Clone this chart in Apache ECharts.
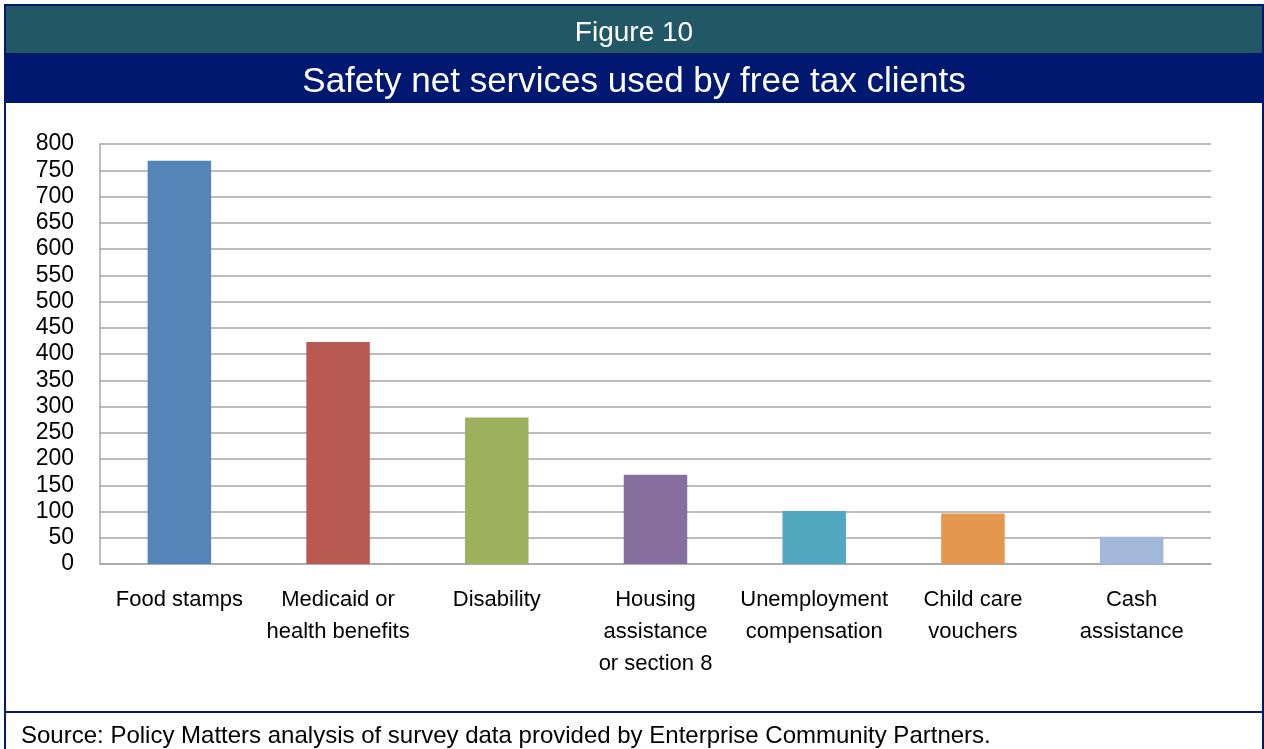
<!DOCTYPE html>
<html>
<head>
<meta charset="utf-8">
<script src="https://cdn.jsdelivr.net/npm/echarts@6/dist/echarts.min.js"></script>
<style>
  html, body { margin: 0; padding: 0; background: #ffffff; }
  #chart { width: 1264px; height: 749px; }
</style>
</head>
<body>
<div id="chart"></div>
<script>
// Survey responses: number of clients using each safety net service
const categories = [
  'Food stamps',
  'Medicaid or\nhealth benefits',
  'Disability',
  'Housing\nassistance\nor section 8',
  'Unemployment\ncompensation',
  'Child care\nvouchers',
  'Cash\nassistance'
];
const clientCounts = [768, 423, 279, 170, 101, 96, 52];
const barColors = ['#5585B8', '#B85A52', '#9BB15E', '#866E9E', '#52A8C0', '#E3974F', '#A3B7D8'];

const figureLabel = 'Figure 10';
const chartTitle = 'Safety net services used by free tax clients';
const sourceNote = 'Source: Policy Matters analysis of survey data provided by Enterprise Community Partners.';

const FONT = '"Liberation Sans", Arial, sans-serif';
const NAVY = '#00186F';
const TEAL = '#225866';

const chart = echarts.init(document.getElementById('chart'), null, { renderer: 'canvas' });

chart.setOption({
  animation: false,
  backgroundColor: '#ffffff',
  grid: { left: 100, right: 53, top: 144, bottom: 185, containLabel: false },
  xAxis: {
    type: 'category',
    data: categories,
    axisLine: { show: true, lineStyle: { color: '#a6a6a6', width: 1.5 } },
    axisTick: { show: false },
    axisLabel: {
      interval: 0,
      margin: 20,
      color: '#000000',
      fontFamily: FONT,
      fontSize: 22,
      lineHeight: 32,
      align: 'center'
    },
    splitLine: { show: false }
  },
  yAxis: {
    type: 'value',
    min: 0,
    max: 800,
    interval: 50,
    axisLine: { show: true, lineStyle: { color: '#a6a6a6', width: 1.5 } },
    axisTick: { show: false },
    axisLabel: {
      color: '#000000',
      fontFamily: FONT,
      fontSize: 23,
      margin: 26,
      padding: [5, 0, 0, 0]
    },
    splitLine: { show: true, lineStyle: { color: '#a6a6a6', width: 1.5 } }
  },
  series: [{
    type: 'bar',
    barWidth: '40%',
    data: clientCounts.map((v, i) => ({ value: v, itemStyle: { color: barColors[i] } }))
  }],
  graphic: [
    // header bands
    { type: 'rect', z: -1, shape: { x: 6, y: 6, width: 1257, height: 47 }, style: { fill: TEAL } },
    { type: 'rect', z: -1, shape: { x: 6, y: 53, width: 1257, height: 50 }, style: { fill: NAVY } },
    // frame and footer divider
    { type: 'rect', z: 10, shape: { x: 5, y: 5, width: 1258, height: 760 }, style: { fill: 'none', stroke: NAVY, lineWidth: 2 } },
    { type: 'line', z: 10, shape: { x1: 5, y1: 712, x2: 1263, y2: 712 }, style: { stroke: NAVY, lineWidth: 2 } },
    // texts
    { type: 'text', z: 11, x: 634, y: 33, style: { text: figureLabel, fill: '#ffffff', font: '28px ' + FONT, textAlign: 'center', textVerticalAlign: 'middle' } },
    { type: 'text', z: 11, x: 634, y: 82, style: { text: chartTitle, fill: '#ffffff', font: '35px ' + FONT, textAlign: 'center', textVerticalAlign: 'middle' } },
    { type: 'text', z: 11, x: 21, y: 736, style: { text: sourceNote, fill: '#000000', font: '24px ' + FONT, textAlign: 'left', textVerticalAlign: 'middle' } }
  ]
});
</script>
</body>
</html>
